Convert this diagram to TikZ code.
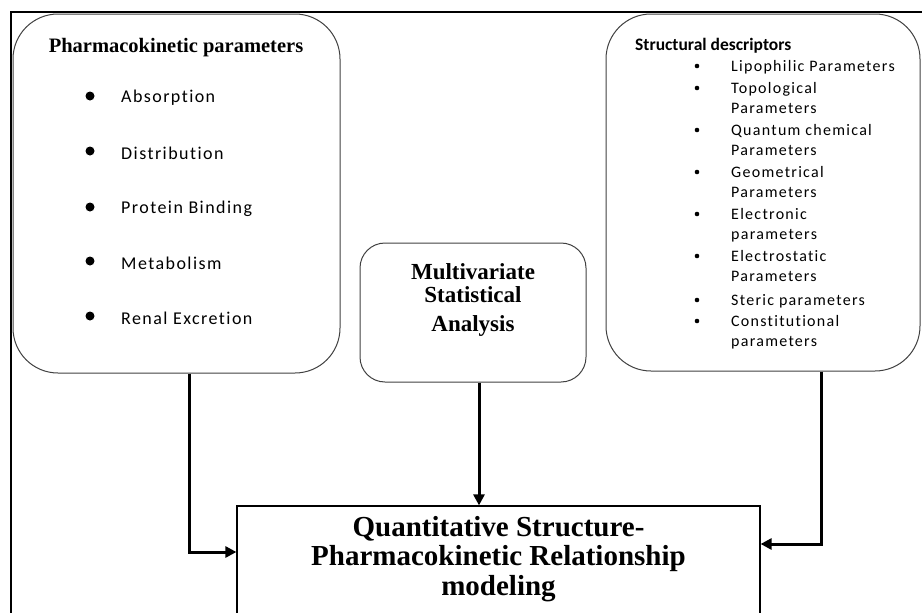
\documentclass[tikz,border=0pt]{standalone}
\usepackage{fontspec}
\setmainfont{Liberation Serif}
\newfontfamily\itemfont[LetterSpace=8, Ligatures=NoCommon]{Carlito}
\newfontfamily\headfont{Carlito}
\usetikzlibrary{arrows.meta}

\begin{document}
\begin{tikzpicture}[x=1pt, y=-1pt,
    roundbox/.style={draw=black!75, line width=1pt, rounded corners=45pt},
    flow/.style={line width=3pt, -{Triangle[length=11pt,width=11pt]}},
    bigitem/.style={anchor=west, inner sep=0pt, font=\itemfont\fontsize{18}{21}\selectfont},
    smallitem/.style={anchor=north west, inner sep=0pt, align=left, font=\itemfont\fontsize{16}{20.5}\selectfont}]

    % page frame
    \path[use as bounding box, clip] (0,0) rectangle (922,613);
    \draw[line width=2pt] (11,613) -- (11,12) -- (922,12);

    % Pharmacokinetic parameters
    \node[roundbox, minimum width=327pt, minimum height=359pt] (pk) at (176.5,193.5) {};
    \node[font=\bfseries\fontsize{20.5}{24}\selectfont] (pktitle) at (176,48) {Pharmacokinetic parameters};
    \fill (90,96) circle (4.5);
    \node[bigitem] (absorption) at (121,98) {Absorption};
    \fill (90,151) circle (4.5);
    \node[bigitem] (distribution) at (121,153) {Distribution};
    \fill (90,207) circle (4.5);
    \node[bigitem] (binding) at (121,209) {Protein Binding};
    \fill (90,261) circle (4.5);
    \node[bigitem] (metabolism) at (121,263) {Metabolism};
    \fill (90,316) circle (4.5);
    \node[bigitem] (excretion) at (121,318) {Renal Excretion};

    % Structural descriptors
    \node[roundbox, minimum width=314pt, minimum height=357pt] (sd) at (763,192.5) {};
    \node[anchor=west, inner sep=0pt, font=\headfont\bfseries\fontsize{17.5}{20}\selectfont] (sdtitle) at (635,46) {Structural descriptors};
    \fill (697,66) circle (2.3);
    \node[smallitem] (lipo) at (731,60) {Lipophilic Parameters};
    \fill (697,88) circle (2.3);
    \node[smallitem] (topo) at (731,82) {Topological\\Parameters};
    \fill (697,130) circle (2.3);
    \node[smallitem] (quantum) at (731,124) {Quantum chemical\\Parameters};
    \fill (697,172) circle (2.3);
    \node[smallitem] (geom) at (731,166) {Geometrical\\Parameters};
    \fill (697,214) circle (2.3);
    \node[smallitem] (electronic) at (731,208) {Electronic\\parameters};
    \fill (697,256) circle (2.3);
    \node[smallitem] (electrostatic) at (731,250) {Electrostatic\\Parameters};
    \fill (697,300) circle (2.3);
    \node[smallitem] (steric) at (731,294) {Steric parameters};
    \fill (697,321) circle (2.3);
    \node[smallitem] (constitutional) at (731,315) {Constitutional\\parameters};

    % Multivariate analysis
    \node[roundbox, rounded corners=25pt, minimum width=226pt, minimum height=139pt] (mv) at (473,312.5) {};
    \node[align=center, inner sep=0pt, font=\bfseries\fontsize{23}{23}\selectfont] (mvtext) at (473,300) {Multivariate\\Statistical\\[6pt]Analysis};

    % QSPR modeling
    \node[draw, line width=1.2pt, minimum width=523pt, minimum height=148pt] (qspr) at (498.5,580) {};
    \node[align=center, inner sep=0pt, font=\bfseries\fontsize{29}{29.5}\selectfont] (qsprtext) at (498.5,559) {Quantitative Structure-\\Pharmacokinetic Relationship\\modeling};

    % arrows
    \coordinate (mvout) at ([xshift=6pt]mv.south);
    \draw[flow] ([xshift=12.5pt]pk.south) |- ([yshift=28pt]qspr.west);
    \draw[flow] (mvout) -- (mvout |- qspr.north);
    \draw[flow] ([xshift=58pt]sd.south) |- ([yshift=36pt]qspr.east);
\end{tikzpicture}
\end{document}
